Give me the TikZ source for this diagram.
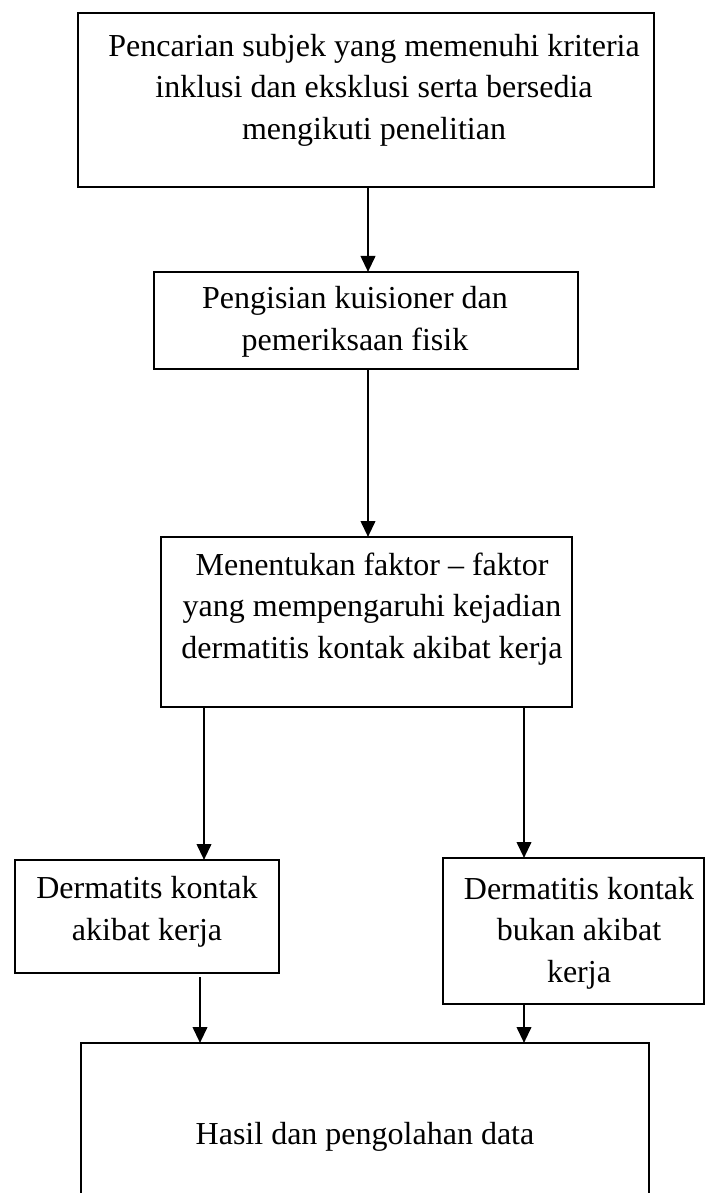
\documentclass[tikz,border=0pt]{standalone}
\usepackage{fontspec}
\setmainfont{Liberation Serif}
\usetikzlibrary{arrows.meta}
\begin{document}
\begin{tikzpicture}[x=0.375pt,y=-0.375pt,
  box/.style={draw, line width=0.9pt, rectangle, inner sep=0pt, outer sep=0pt, anchor=north west},
  txt/.style={align=center, inner sep=0pt, font=\fontsize{12pt}{15.6pt}\selectfont},
  arr/.style={line width=1pt, -{Triangle[length=6pt,width=5.4pt]}}]
\useasboundingbox (0,0) rectangle (705,1193);
\clip (0,0) rectangle (705,1193);
% boxes
\node[box, minimum width=216pt, minimum height=65.25pt] (b1) at (78,13) {};
\node[box, minimum width=159pt, minimum height=36.375pt] (b2) at (154,272) {};
\node[box, minimum width=154.125pt, minimum height=63.75pt] (b3) at (161,537) {};
\node[box, minimum width=99pt, minimum height=42.375pt] (b4) at (15,860) {};
\node[box, minimum width=97.875pt, minimum height=54.75pt] (b5) at (443,858) {};
\node[box, minimum width=213pt, minimum height=66.375pt] (b6) at (81,1043) {};
% texts
\node[txt] (t1) at (374,90) {Pencarian subjek yang memenuhi kriteria\\inklusi dan eksklusi serta bersedia\\mengikuti penelitian};
\node[txt] (t2) at (355,322) {Pengisian kuisioner dan\\pemeriksaan fisik};
\node[txt] (t3) at (372,609) {Menentukan faktor – faktor\\yang mempengaruhi kejadian\\dermatitis kontak akibat kerja};
\node[txt] (t4) at (147,912) {Dermatits kontak\\akibat kerja};
\node[txt] (t5) at (579,933) {Dermatitis kontak\\bukan akibat\\kerja};
\node[txt] (t6) at (365,1137) {Hasil dan pengolahan data};
% connector columns
\coordinate (c1) at (368,0);
\coordinate (c2) at (204,0);
\coordinate (c3) at (524,0);
\coordinate (c4) at (200,0);
% connectors
\draw[arr] (b1.south -| c1) -- (b2.north -| c1);
\draw[arr] (b2.south -| c1) -- (b3.north -| c1);
\draw[arr] (b3.south -| c2) -- (b4.north -| c2);
\draw[arr] (b3.south -| c3) -- (b5.north -| c3);
\draw[arr] ([yshift=-1.5pt]b4.south -| c4) -- (b6.north -| c4);
\draw[arr] (b5.south -| c3) -- (b6.north -| c3);
\end{tikzpicture}
\end{document}
